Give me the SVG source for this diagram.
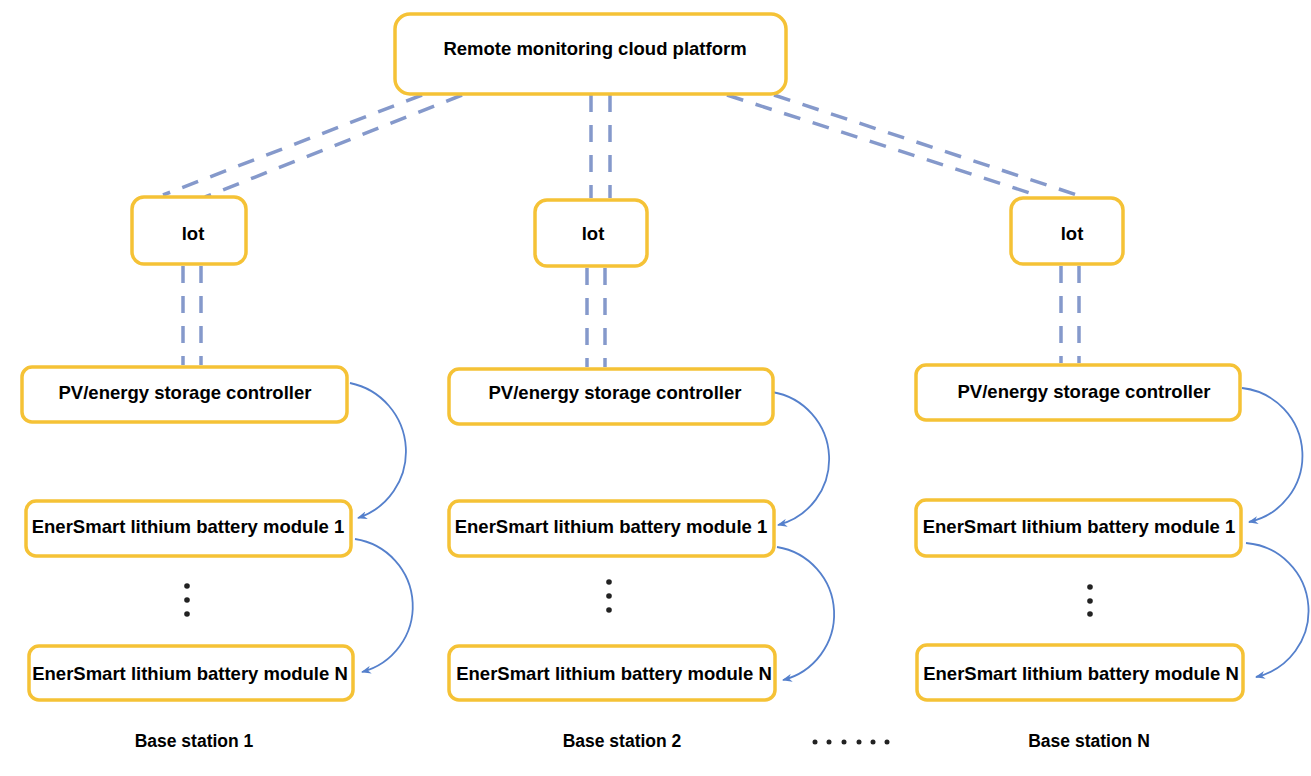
<svg xmlns="http://www.w3.org/2000/svg" width="1311" height="776" viewBox="0 0 1311 776">
<style>
.box{fill:#fff;stroke:#F5C236;stroke-width:3.5}
.t{font-family:"Liberation Sans",Arial,sans-serif;font-weight:bold;font-size:18.5px;fill:#000;text-anchor:middle}
.lbl{font-family:"Liberation Sans",Arial,sans-serif;font-weight:bold;font-size:17.5px;fill:#000;text-anchor:middle}
.dash{fill:none;stroke:#8599CB;stroke-width:3.5;stroke-dasharray:17 13}
.arc{fill:none;stroke:#5580CC;stroke-width:1.8}
.dot{fill:#222}
</style>
<defs>
<marker id="ah" viewBox="0 0 10 8" refX="9" refY="4" markerWidth="10" markerHeight="8" markerUnits="userSpaceOnUse" orient="auto">
<path d="M0,0 L10,4 L0,8 L3,4 z" fill="#5580CC"/>
</marker>
</defs>
<rect width="1311" height="776" fill="#fff"/>
<g id="connectors">
<path class="dash" d="M422,95 L163,195"/>
<path class="dash" d="M462,95 L205,197"/>
<path class="dash" d="M591,95 L591,198"/>
<path class="dash" d="M610,95 L610,198"/>
<path class="dash" d="M727,95 L1033,194"/>
<path class="dash" d="M774,95 L1080,196"/>
<path class="dash" d="M183,266 L183,365"/>
<path class="dash" d="M201,266 L201,365"/>
<path class="dash" d="M587,268 L587,367"/>
<path class="dash" d="M605,268 L605,367"/>
<path class="dash" d="M1061,266 L1061,363"/>
<path class="dash" d="M1079,266 L1079,363"/>
<path class="arc" marker-end="url(#ah)" d="M350,383 A70,70 0 0 1 358,518"/>
<path class="arc" marker-end="url(#ah)" d="M355,539 A68,68 0 0 1 362,672"/>
<path class="arc" marker-end="url(#ah)" d="M772,392 A68,68 0 0 1 778,525"/>
<path class="arc" marker-end="url(#ah)" d="M777,547 A68,68 0 0 1 783,680"/>
<path class="arc" marker-end="url(#ah)" d="M1242,388 A68,68 0 0 1 1249,522"/>
<path class="arc" marker-end="url(#ah)" d="M1246,543 A68,68 0 0 1 1256,677"/>
</g>
<g id="cloud">
<rect class="box" x="395" y="14" width="391" height="80" rx="15"/>
<text class="t" x="595" y="55">Remote monitoring cloud platform</text>
</g>
<g id="iot1">
<rect class="box" x="132" y="197" width="114" height="67" rx="12"/>
<text class="t" x="193" y="240">lot</text>
</g>
<g id="iot2">
<rect class="box" x="535" y="200" width="112" height="66" rx="12"/>
<text class="t" x="593" y="240">lot</text>
</g>
<g id="iot3">
<rect class="box" x="1011" y="198" width="112" height="66" rx="12"/>
<text class="t" x="1072" y="240">lot</text>
</g>
<g id="ctrl1">
<rect class="box" x="22" y="367" width="325" height="55" rx="10"/>
<text class="t" x="185" y="399">PV/energy storage controller</text>
</g>
<g id="ctrl2">
<rect class="box" x="449" y="369" width="324" height="55" rx="10"/>
<text class="t" x="615" y="399">PV/energy storage controller</text>
</g>
<g id="ctrl3">
<rect class="box" x="916" y="365" width="324" height="55" rx="10"/>
<text class="t" x="1084" y="398">PV/energy storage controller</text>
</g>
<g id="m1a">
<rect class="box" x="26" y="501" width="325" height="55" rx="10"/>
<text class="t" x="188" y="533">EnerSmart lithium battery module 1</text>
</g>
<g id="m1b">
<rect class="box" x="449" y="501" width="325" height="55" rx="10"/>
<text class="t" x="611" y="533">EnerSmart lithium battery module 1</text>
</g>
<g id="m1c">
<rect class="box" x="916" y="500" width="325" height="56" rx="10"/>
<text class="t" x="1079" y="533">EnerSmart lithium battery module 1</text>
</g>
<g id="mNa">
<rect class="box" x="29" y="646" width="324" height="54" rx="10"/>
<text class="t" x="190" y="680">EnerSmart lithium battery module N</text>
</g>
<g id="mNb">
<rect class="box" x="449" y="646" width="326" height="54" rx="10"/>
<text class="t" x="614" y="680">EnerSmart lithium battery module N</text>
</g>
<g id="mNc">
<rect class="box" x="917" y="645" width="326" height="55" rx="10"/>
<text class="t" x="1081" y="680">EnerSmart lithium battery module N</text>
</g>
<g id="ellipses">
<circle class="dot" cx="187" cy="586" r="2.8"/>
<circle class="dot" cx="187" cy="600" r="2.8"/>
<circle class="dot" cx="187" cy="614" r="2.8"/>
<circle class="dot" cx="609" cy="582" r="2.8"/>
<circle class="dot" cx="609" cy="596" r="2.8"/>
<circle class="dot" cx="609" cy="610" r="2.8"/>
<circle class="dot" cx="1090" cy="587" r="2.8"/>
<circle class="dot" cx="1090" cy="601" r="2.8"/>
<circle class="dot" cx="1090" cy="614" r="2.8"/>
<circle class="dot" cx="815" cy="742" r="2.5"/>
<circle class="dot" cx="829" cy="742" r="2.5"/>
<circle class="dot" cx="844" cy="742" r="2.5"/>
<circle class="dot" cx="859" cy="742" r="2.5"/>
<circle class="dot" cx="873" cy="742" r="2.5"/>
<circle class="dot" cx="887" cy="742" r="2.5"/>
</g>
<g id="labels">
<text class="lbl" x="194" y="747">Base station 1</text>
<text class="lbl" x="622" y="747">Base station 2</text>
<text class="lbl" x="1089" y="747">Base station N</text>
</g>
</svg>
